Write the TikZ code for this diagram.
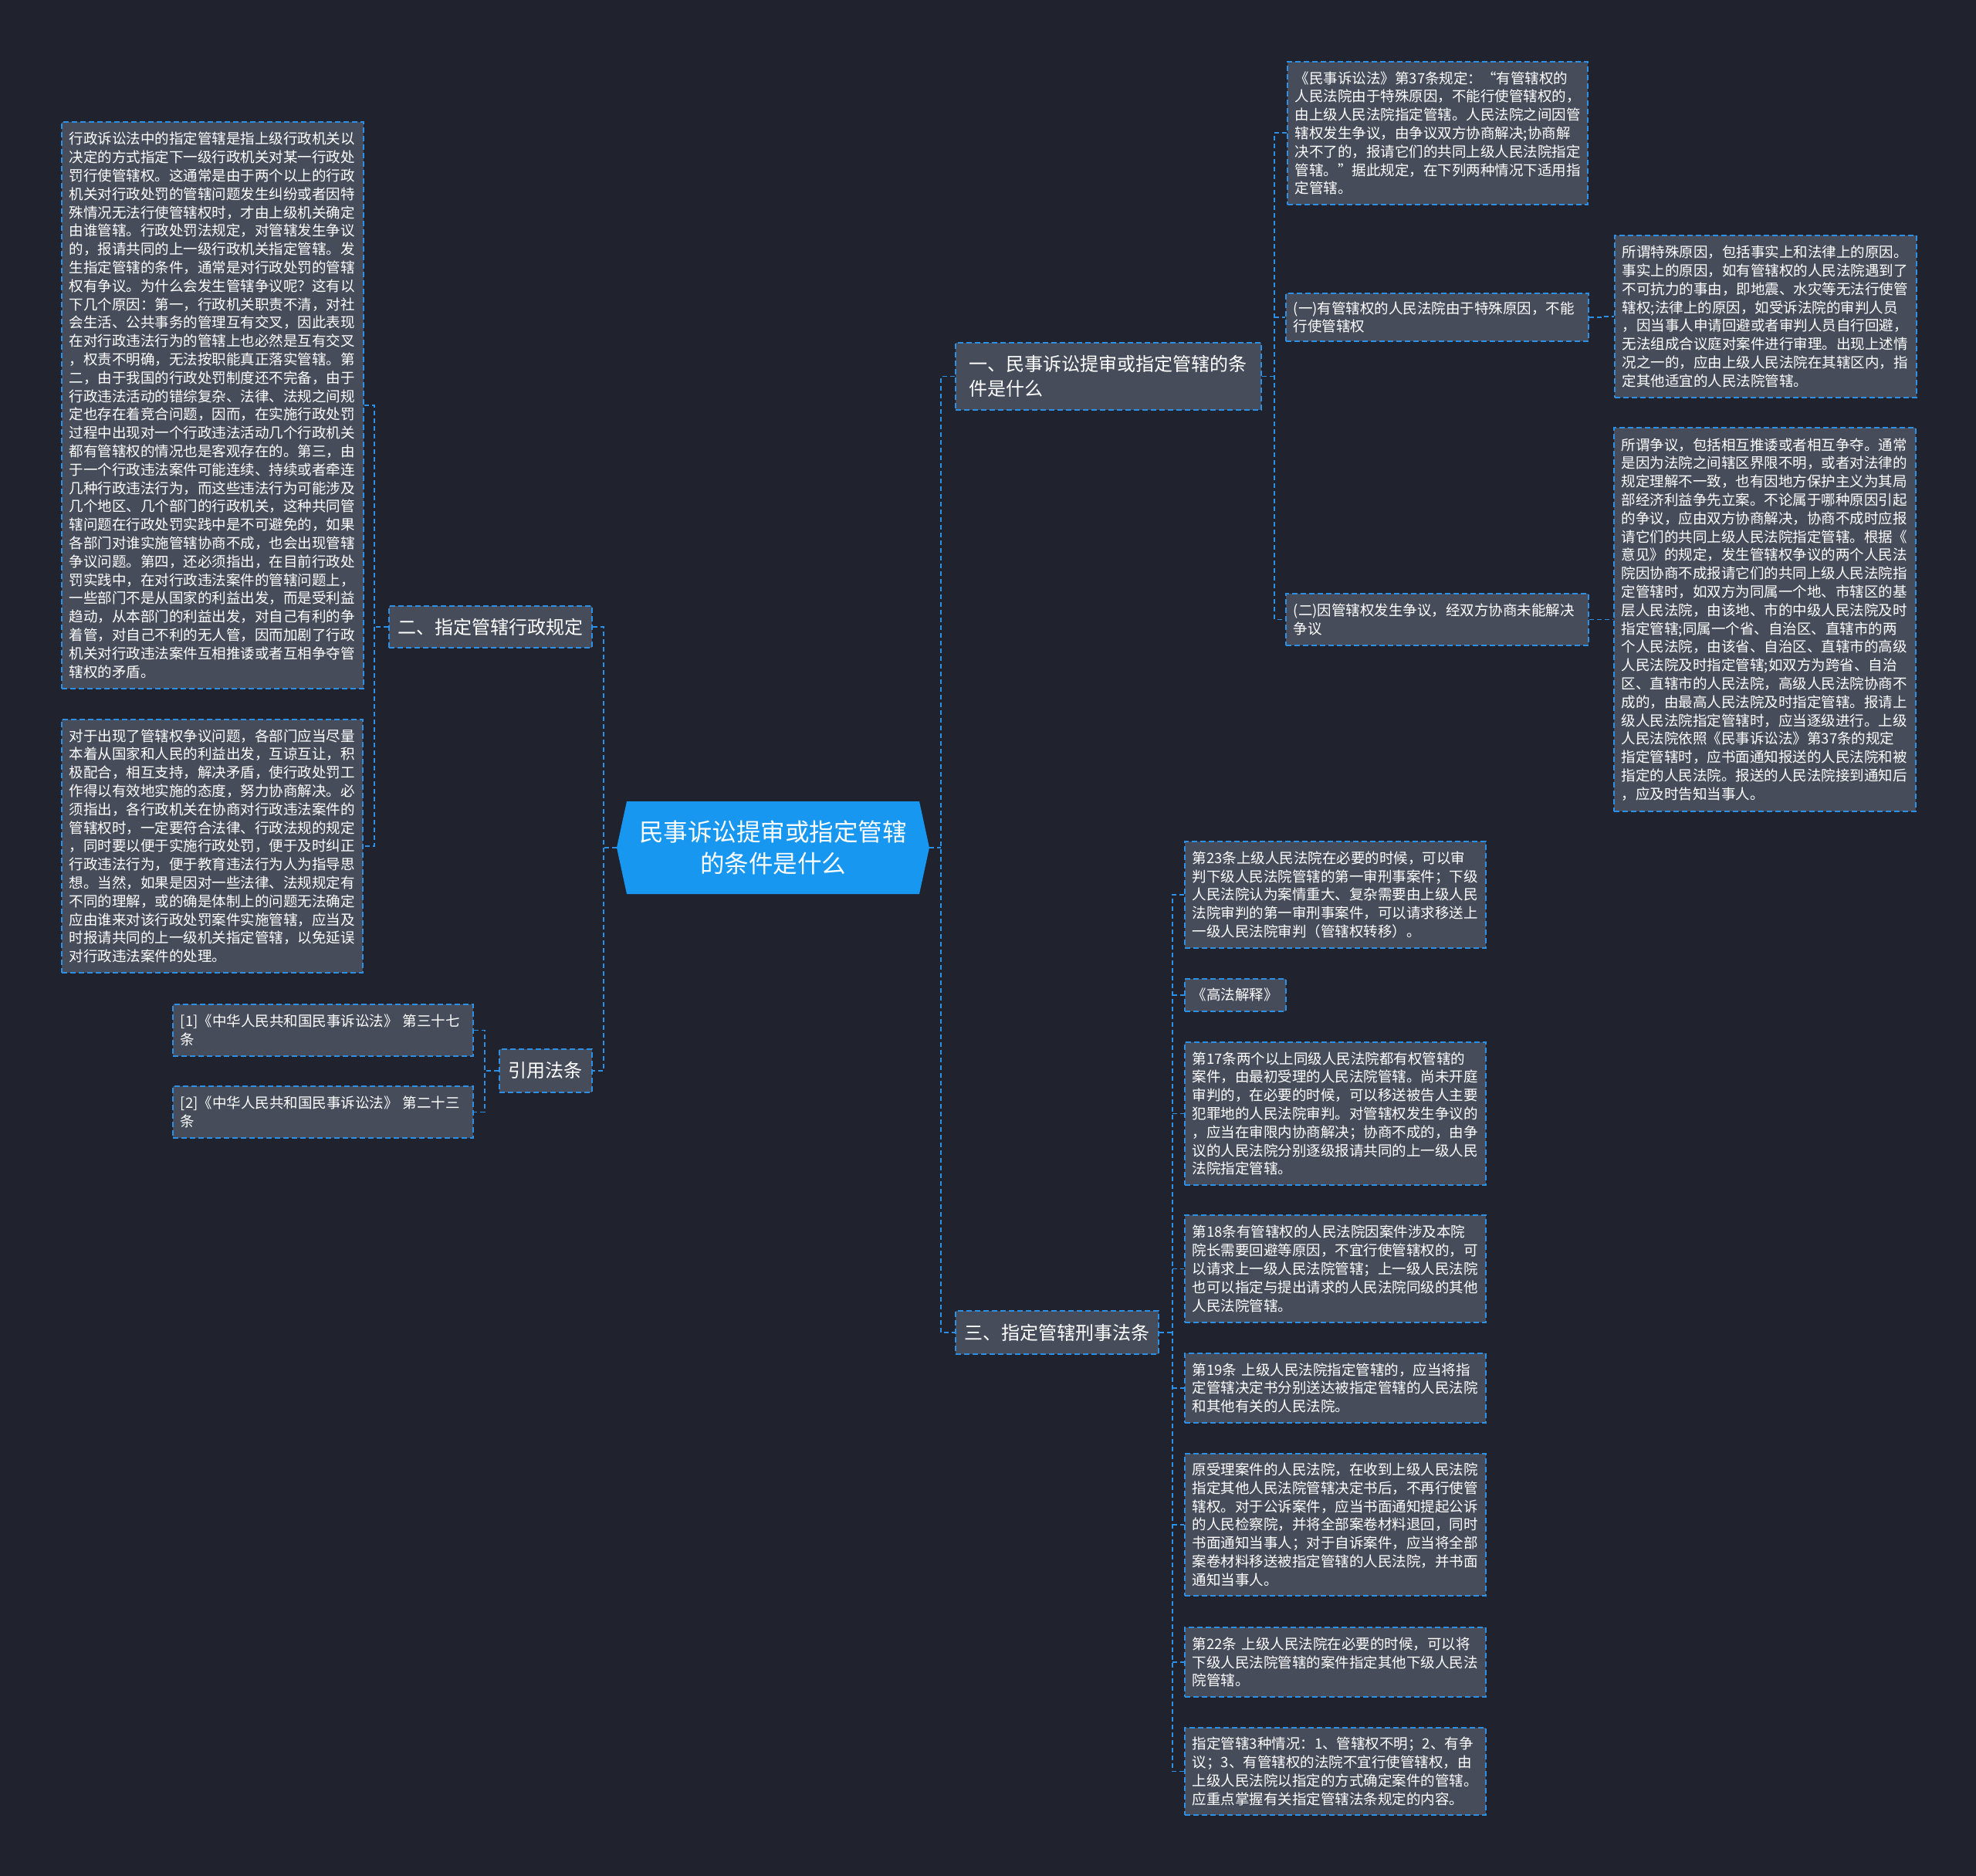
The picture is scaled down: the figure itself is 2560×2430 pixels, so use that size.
\documentclass[tikz,border=0pt]{standalone}
\usepackage{fontspec}
\setmainfont{Noto Sans CJK SC}
\definecolor{bg}{HTML}{20232E}
\definecolor{boxfill}{HTML}{464C5A}
\definecolor{edge}{HTML}{2B90E6}
\definecolor{rootfill}{HTML}{1797F0}
\begin{document}
\begin{tikzpicture}[x=1pt,y=-1pt,
  conn/.style={draw=edge, line width=1.8pt, dash pattern=on 6pt off 4pt},
  leaf/.style={draw=edge, fill=boxfill, line width=1.8pt, dash pattern=on 7pt off 4pt,
    text=white, anchor=north west, align=left, inner xsep=10pt, inner ysep=3pt,
    font=\fontsize{18.5}{23.8}\selectfont},
  topic/.style={leaf, inner xsep=8pt, font=\fontsize{24}{32}\selectfont},
  rootnode/.style={rectangle, minimum width=405pt, minimum height=120pt, inner sep=0pt,
    text=white, align=center, font=\fontsize{31.5}{41.6}\selectfont,
    path picture={\fill[rootfill] (path picture bounding box.west)
      -- ([xshift=13pt]path picture bounding box.north west)
      -- ([xshift=-13pt]path picture bounding box.north east)
      -- (path picture bounding box.east)
      -- ([xshift=-13pt]path picture bounding box.south east)
      -- ([xshift=13pt]path picture bounding box.south west) -- cycle;}},
]
\fill[bg] (0,0) rectangle (2560,2430);

% root
\node[rootnode] (root) at (1001.5,1098) {民事诉讼提审或指定管辖\\的条件是什么};

% main topics
\node[topic, minimum width=263pt, minimum height=54pt] (n2) at (503,784) {二、指定管辖行政规定};
\node[topic, minimum width=120pt, minimum height=56pt] (ncite) at (646,1358) {引用法条};
\node[topic, minimum width=396pt, minimum height=87pt] (n1) at (1237,443) {一、民事诉讼提审或指定管辖的条\\件是什么};
\node[topic, minimum width=263pt, minimum height=56pt] (n3) at (1237,1697) {三、指定管辖刑事法条};

% left leaves
\node[leaf, text width=371pt, minimum height=734pt] (L1) at (79,157) {行政诉讼法中的指定管辖是指上级行政机关以\\决定的方式指定下一级行政机关对某一行政处\\罚行使管辖权。这通常是由于两个以上的行政\\机关对行政处罚的管辖问题发生纠纷或者因特\\殊情况无法行使管辖权时，才由上级机关确定\\由谁管辖。行政处罚法规定，对管辖发生争议\\的，报请共同的上一级行政机关指定管辖。发\\生指定管辖的条件，通常是对行政处罚的管辖\\权有争议。为什么会发生管辖争议呢？这有以\\下几个原因：第一，行政机关职责不清，对社\\会生活、公共事务的管理互有交叉，因此表现\\在对行政违法行为的管辖上也必然是互有交叉\\，权责不明确，无法按职能真正落实管辖。第\\二，由于我国的行政处罚制度还不完备，由于\\行政违法活动的错综复杂、法律、法规之间规\\定也存在着竞合问题，因而，在实施行政处罚\\过程中出现对一个行政违法活动几个行政机关\\都有管辖权的情况也是客观存在的。第三，由\\于一个行政违法案件可能连续、持续或者牵连\\几种行政违法行为，而这些违法行为可能涉及\\几个地区、几个部门的行政机关，这种共同管\\辖问题在行政处罚实践中是不可避免的，如果\\各部门对谁实施管辖协商不成，也会出现管辖\\争议问题。第四，还必须指出，在目前行政处\\罚实践中，在对行政违法案件的管辖问题上，\\一些部门不是从国家的利益出发，而是受利益\\趋动，从本部门的利益出发，对自己有利的争\\着管，对自己不利的无人管，因而加剧了行政\\机关对行政违法案件互相推诿或者互相争夺管\\辖权的矛盾。};
\node[leaf, text width=370pt, minimum height=328pt] (L2) at (79,931) {对于出现了管辖权争议问题，各部门应当尽量\\本着从国家和人民的利益出发，互谅互让，积\\极配合，相互支持，解决矛盾，使行政处罚工\\作得以有效地实施的态度，努力协商解决。必\\须指出，各行政机关在协商对行政违法案件的\\管辖权时，一定要符合法律、行政法规的规定\\，同时要以便于实施行政处罚，便于及时纠正\\行政违法行为，便于教育违法行为人为指导思\\想。当然，如果是因对一些法律、法规规定有\\不同的理解，或的确是体制上的问题无法确定\\应由谁来对该行政处罚案件实施管辖，应当及\\时报请共同的上一级机关指定管辖，以免延误\\对行政违法案件的处理。};
\node[leaf, text width=369pt, minimum height=67pt] (R1) at (223,1300) {[1]《中华人民共和国民事诉讼法》~第三十七\\条};
\node[leaf, text width=369pt, minimum height=67pt] (R2) at (223,1406) {[2]《中华人民共和国民事诉讼法》~第二十三\\条};

% section one leaves
\node[leaf, text width=369pt, minimum height=185pt] (T) at (1667,79) {《民事诉讼法》第37条规定：“有管辖权的\\人民法院由于特殊原因，不能行使管辖权的，\\由上级人民法院指定管辖。人民法院之间因管\\辖权发生争议，由争议双方协商解决;协商解\\决不了的，报请它们的共同上级人民法院指定\\管辖。”据此规定，在下列两种情况下适用指\\定管辖。};
\node[leaf, text width=372pt, minimum height=62pt] (A1) at (1665,379) {(一)有管辖权的人民法院由于特殊原因，不能\\行使管辖权};
\node[leaf, text width=372pt, minimum height=67pt] (A2) at (1665,768) {(二)因管辖权发生争议，经双方协商未能解决\\争议};
\node[leaf, text width=371pt, minimum height=210pt] (A1c) at (2091,304) {所谓特殊原因，包括事实上和法律上的原因。\\事实上的原因，如有管辖权的人民法院遇到了\\不可抗力的事由，即地震、水灾等无法行使管\\辖权;法律上的原因，如受诉法院的审判人员\\，因当事人申请回避或者审判人员自行回避，\\无法组成合议庭对案件进行审理。出现上述情\\况之一的，应由上级人民法院在其辖区内，指\\定其他适宜的人民法院管辖。};
\node[leaf, text width=371pt, minimum height=497pt] (A2c) at (2090,553) {所谓争议，包括相互推诿或者相互争夺。通常\\是因为法院之间辖区界限不明，或者对法律的\\规定理解不一致，也有因地方保护主义为其局\\部经济利益争先立案。不论属于哪种原因引起\\的争议，应由双方协商解决，协商不成时应报\\请它们的共同上级人民法院指定管辖。根据《\\意见》的规定，发生管辖权争议的两个人民法\\院因协商不成报请它们的共同上级人民法院指\\定管辖时，如双方为同属一个地、市辖区的基\\层人民法院，由该地、市的中级人民法院及时\\指定管辖;同属一个省、自治区、直辖市的两\\个人民法院，由该省、自治区、直辖市的高级\\人民法院及时指定管辖;如双方为跨省、自治\\区、直辖市的人民法院，高级人民法院协商不\\成的，由最高人民法院及时指定管辖。报请上\\级人民法院指定管辖时，应当逐级进行。上级\\人民法院依照《民事诉讼法》第37条的规定\\指定管辖时，应书面通知报送的人民法院和被\\指定的人民法院。报送的人民法院接到通知后\\，应及时告知当事人。};

% section three leaves
\node[leaf, text width=370pt, minimum height=138pt] (c23) at (1534,1089) {第23条上级人民法院在必要的时候，可以审\\判下级人民法院管辖的第一审刑事案件；下级\\人民法院认为案情重大、复杂需要由上级人民\\法院审判的第一审刑事案件，可以请求移送上\\一级人民法院审判（管辖权转移）。};
\node[leaf, minimum width=130pt, minimum height=42pt] (gf) at (1534,1267) {《高法解释》};
\node[leaf, text width=370pt, minimum height=185pt] (c17) at (1534,1349) {第17条两个以上同级人民法院都有权管辖的\\案件，由最初受理的人民法院管辖。尚未开庭\\审判的，在必要的时候，可以移送被告人主要\\犯罪地的人民法院审判。对管辖权发生争议的\\，应当在审限内协商解决；协商不成的，由争\\议的人民法院分别逐级报请共同的上一级人民\\法院指定管辖。};
\node[leaf, text width=370pt, minimum height=139pt] (c18) at (1534,1573) {第18条有管辖权的人民法院因案件涉及本院\\院长需要回避等原因，不宜行使管辖权的，可\\以请求上一级人民法院管辖；上一级人民法院\\也可以指定与提出请求的人民法院同级的其他\\人民法院管辖。};
\node[leaf, text width=370pt, minimum height=90pt] (c19) at (1534,1752) {第19条~上级人民法院指定管辖的，应当将指\\定管辖决定书分别送达被指定管辖的人民法院\\和其他有关的人民法院。};
\node[leaf, text width=370pt, minimum height=184pt] (cy) at (1534,1882) {原受理案件的人民法院，在收到上级人民法院\\指定其他人民法院管辖决定书后，不再行使管\\辖权。对于公诉案件，应当书面通知提起公诉\\的人民检察院，并将全部案卷材料退回，同时\\书面通知当事人；对于自诉案件，应当将全部\\案卷材料移送被指定管辖的人民法院，并书面\\通知当事人。};
\node[leaf, text width=370pt, minimum height=90pt] (c22) at (1534,2107) {第22条~上级人民法院在必要的时候，可以将\\下级人民法院管辖的案件指定其他下级人民法\\院管辖。};
\node[leaf, text width=370pt, minimum height=113pt] (c3) at (1534,2237) {指定管辖3种情况：1、管辖权不明；2、有争\\议；3、有管辖权的法院不宜行使管辖权，由\\上级人民法院以指定的方式确定案件的管辖。\\应重点掌握有关指定管辖法条规定的内容。};

% connectors: root left
\coordinate (tl) at ([xshift=-17pt]root.west);
\draw[conn] (root.west) -- (tl);
\draw[conn] (n2.east) -- (tl |- n2.east) -- (tl |- ncite.east) -- (ncite.east);
% section two
\coordinate (t2) at ([xshift=-18pt]n2.west);
\draw[conn] (n2.west) -- (t2);
\draw[conn] (L1.east) -- (t2 |- L1.east) -- (t2 |- L2.east) -- (L2.east);
% citations
\coordinate (tc) at ([xshift=-18pt]ncite.west);
\draw[conn] (ncite.west) -- (tc);
\draw[conn] (R1.east) -- (tc |- R1.east) -- (tc |- R2.east) -- (R2.east);
% root right
\coordinate (tr) at ([xshift=15pt]root.east);
\draw[conn] (root.east) -- (tr);
\draw[conn] (n1.west) -- (tr |- n1.west) -- (tr |- n3.west) -- (n3.west);
% section one
\coordinate (t1) at ([xshift=16pt]n1.east);
\draw[conn] (n1.east) -- (t1);
\draw[conn] (T.west) -- (t1 |- T.west) -- (t1 |- A2.west) -- (A2.west);
\draw[conn] (t1 |- A1.west) -- (A1.west);
\coordinate (ta1) at ([xshift=17pt]A1.east);
\draw[conn] (A1.east) -- (ta1) |- (A1c.west);
\coordinate (ta2) at ([xshift=17pt]A2.east);
\draw[conn] (A2.east) -- (ta2) |- (A2c.west);
% section three
\coordinate (t3) at ([xshift=17pt]n3.east);
\draw[conn] (n3.east) -- (t3);
\draw[conn] (c23.west) -- (t3 |- c23.west) -- (t3 |- c3.west) -- (c3.west);
\foreach \k in {gf,c17,c18,c19,cy,c22} {\draw[conn] (t3 |- \k.west) -- (\k.west);}
\end{tikzpicture}
\end{document}
